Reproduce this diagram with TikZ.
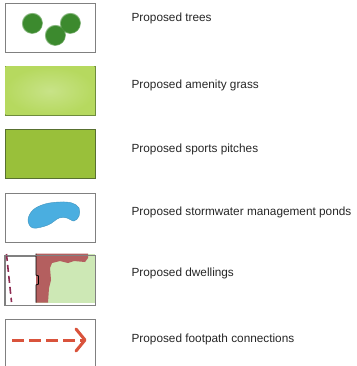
\documentclass[tikz,border=0pt]{standalone}
\usepackage{fontspec}
\setmainfont{Liberation Sans}
\usetikzlibrary{positioning,calc,fadings}
\definecolor{framegray}{HTML}{808080}
\definecolor{treegreen}{HTML}{3C8A2E}
\definecolor{grassedge}{HTML}{6E8C3C}
\definecolor{grassfill}{HTML}{B6D95F}
\definecolor{grasslight}{HTML}{C8E388}
\definecolor{pitchfill}{HTML}{99C03A}
\definecolor{pondblue}{HTML}{4AAEE0}
\definecolor{plotred}{HTML}{B45F5F}
\definecolor{plotgreen}{HTML}{CDE8B5}
\definecolor{edgemaroon}{HTML}{8E2C52}
\definecolor{pathred}{HTML}{D9533C}
\tikzset{
  box/.style={rectangle, minimum width = 90pt, minimum height = 49pt, inner sep = 0pt, draw = framegray, line width = 0.8pt, node distance = 13.5pt},
  caption/.style={inner sep = 0pt, font = \fontsize{11.8}{13}\selectfont, text = black!85},
  tree/.style={treegreen, path fading = circle with fuzzy edge 15 percent},
  footpath/.style={pathred, line width = 3pt}
}
\begin{document}
\begin{tikzpicture}[x=1pt, y=-1pt]
    \useasboundingbox (0,0) rectangle (356,366);
    \node[box, fill=white] (Trees) at (50,27.5) {};
    \node[box, fill=grassfill, draw=grassedge] (Grass) [below=of Trees] {};
    \node[box, fill=pitchfill, draw=grassedge!80!black] (Pitch) [below=of Grass] {};
    \node[box, fill=white] (Pond) [below=of Pitch] {};
    \node[box, fill=white] (Dwell) [below=of Pond] {};
    \node[box, fill=white] (Path) [below=of Dwell] {};

    \node[caption, right=36pt of Trees, yshift=9pt] (TreesText) {Proposed trees};
    \node[caption, right=36pt of Grass, yshift=5pt] (GrassText) {Proposed amenity grass};
    \node[caption, right=36pt of Pitch, yshift=5pt] (PitchText) {Proposed sports pitches};
    \node[caption, right=36pt of Pond, yshift=4.5pt] (PondText) {Proposed stormwater management ponds};
    \node[caption, right=36pt of Dwell, yshift=7pt] (DwellText) {Proposed dwellings};
    \node[caption, right=36pt of Path, yshift=4.5pt] (PathText) {Proposed footpath connections};

    % trees
    \fill[tree] (32,23) circle (11);
    \fill[tree] (70,23) circle (11);
    \fill[tree] (55,35) circle (11);

    % amenity grass glow
    \shade[inner color=grasslight, outer color=grassfill]
        ($(Grass.south west)+(1,-1)$) rectangle ($(Grass.north east)+(-1,1)$);

    % pond
    \fill[pondblue, draw=pondblue!85!black, line width=0.4pt] plot[smooth cycle, tension=0.6]
        coordinates {(28,220) (33,210) (45,204) (60,202) (72,203) (79,208) (79,216) (74,221) (67,218) (59,218) (48,225) (33,228)};

    % dwellings
    \fill[plotgreen] (36,253.5) rectangle (94.5,302.5);
    \fill[plotred] (36,253.5) -- (88,253.5) -- (88,258) -- (85,262) -- (74,261) -- (68,263)
        -- (60,261) -- (52,263) -- (50,268) -- (51,280) -- (49,288) -- (48,302.5) -- (36,302.5) -- cycle;
    \draw[black, line width=0.8pt] (36,253.5) -- (36,275) -- (38.5,276) -- (38.5,284) -- (36,285) -- (36,302.5);
    \draw[edgemaroon, line width=1.6pt, dash pattern=on 7pt off 4pt] (6.5,254) -- (11.5,302);
    \draw[framegray, line width=0.8pt] (Dwell.south west) rectangle (Dwell.north east);

    % footpath
    \coordinate (PathA) at (12,340);
    \coordinate (PathB) at (85,340);
    \draw[footpath, dash pattern=on 12pt off 5pt] (PathA) -- ($(PathB)+(-1.5,0)$);
    \draw[footpath, line cap=round, line join=round] ($(PathB)+(-9,-11)$) -- (PathB) -- ($(PathB)+(-9,11)$);
\end{tikzpicture}
\end{document}
